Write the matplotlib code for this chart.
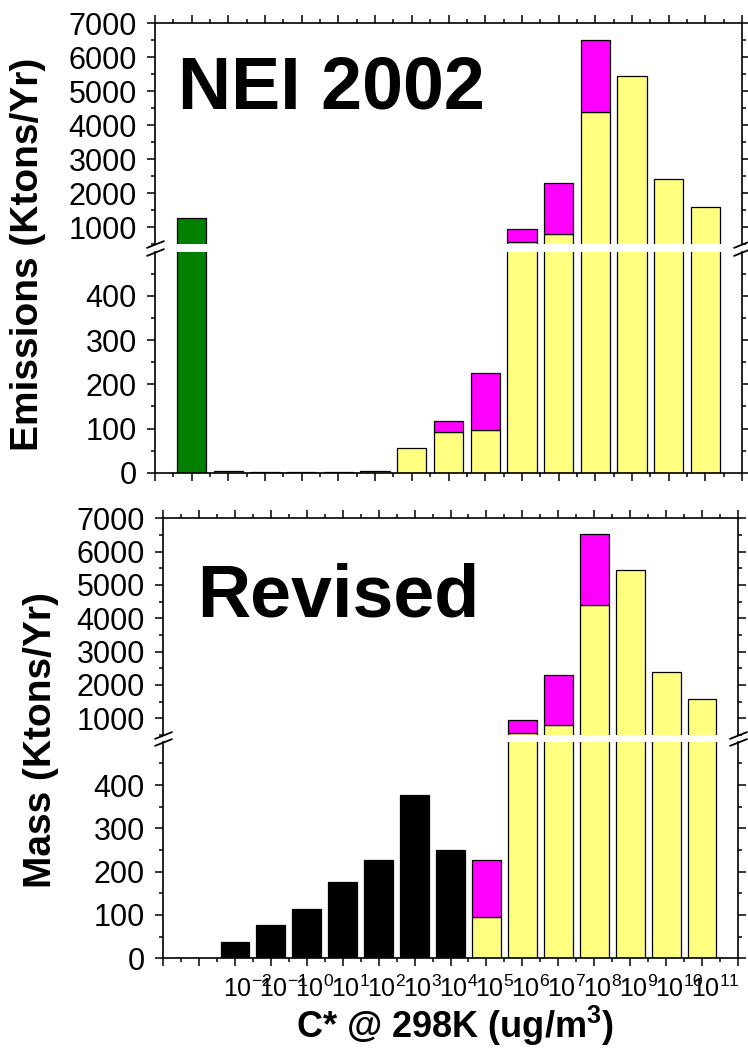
import numpy as np
import matplotlib
matplotlib.use("Agg")
import matplotlib.pyplot as plt
from matplotlib.ticker import MultipleLocator, FixedLocator

plt.rcParams['font.family'] = ['Liberation Sans', 'DejaVu Sans']
plt.rcParams['mathtext.fontset'] = 'custom'
plt.rcParams['mathtext.rm'] = 'Liberation Sans'
plt.rcParams['mathtext.bf'] = 'Liberation Sans:bold'

# bins: slot 1 .. 15, slot k is labelled 10^(k-4)
slots = np.arange(1, 16)
label_slots = np.arange(2, 16)
exponents = ['-2', '-1', '0', '1', '2', '3', '4', '5', '6', '7', '8', '9', '10', '11']

# NEI 2002 (Ktons/Yr)
nei_green = [1255, 0, 0, 0, 0, 0, 0, 0, 0, 0, 0, 0, 0, 0, 0]
nei_yellow = [0, 4, 0.6, 0.6, 2, 3, 55, 92, 96, 565, 805, 4380, 5450, 2400, 1590]
nei_magenta = [0, 0, 0, 0, 0, 0, 0, 26, 130, 370, 1490, 2130, 0, 0, 0]

# Revised (Ktons/Yr)
rev_black = [0, 38, 76, 114, 177, 227, 378, 250, 0, 0, 0, 0, 0, 0, 0]
rev_yellow = [0, 0, 0, 0, 0, 0, 0, 0, 95, 570, 808, 4390, 5450, 2402, 1592]
rev_magenta = [0, 0, 0, 0, 0, 0, 0, 0, 132, 370, 1493, 2132, 0, 0, 0]

YELLOW = '#ffff80'
MAGENTA = '#ff00ff'
GREEN = '#008000'

W, H = 748, 1054
fig = plt.figure(figsize=(W / 100, H / 100), dpi=100)


def px_axes(left, top, right, bottom):
    return fig.add_axes([left / W, 1 - bottom / H, (right - left) / W, (bottom - top) / H])


def draw_panel(ax_hi, ax_lo, layers):
    for ax in (ax_hi, ax_lo):
        base = np.zeros(len(slots))
        for heights, color in layers:
            h = np.array(heights, float)
            m = h > 0
            ax.bar(slots[m], h[m], width=0.8, bottom=base[m], color=color,
                   edgecolor='black', linewidth=0.9)
            base += h
        ax.set_xlim(0, 16)
        ax.xaxis.set_major_locator(MultipleLocator(1))
        ax.xaxis.set_minor_locator(MultipleLocator(0.5))
        ax.tick_params(which='both', direction='out', right=True, labelright=False,
                       labelbottom=False, width=1.1, labelsize=22, pad=7)
        ax.tick_params(which='major', length=6)
        ax.tick_params(which='minor', length=3)
        for s in ax.spines.values():
            s.set_linewidth(1.2)

    ax_hi.set_ylim(500, 7000)
    ax_hi.yaxis.set_major_locator(MultipleLocator(1000))
    ax_hi.yaxis.set_minor_locator(MultipleLocator(500))
    ax_hi.spines['bottom'].set_visible(False)
    ax_hi.tick_params(which='both', bottom=False, top=True, labeltop=False)

    ax_lo.set_ylim(0, 500)
    ax_lo.yaxis.set_major_locator(FixedLocator([0, 100, 200, 300, 400]))
    ax_lo.yaxis.set_minor_locator(FixedLocator([50, 150, 250, 350, 450]))
    ax_lo.spines['top'].set_visible(False)
    ax_lo.tick_params(which='both', top=False)

    # break marks
    kw = dict(marker=[(-1, -0.4), (1, 0.4)], markersize=13, linestyle='none',
              color='k', mec='k', mew=1.3, clip_on=False)
    ax_hi.plot([0, 1], [0, 0], transform=ax_hi.transAxes, **kw)
    ax_lo.plot([0, 1], [1, 1], transform=ax_lo.transAxes, **kw)


# top panel: NEI 2002
a1 = px_axes(155, 23.3, 742, 244)
a2 = px_axes(155, 251.7, 742, 472.7)
draw_panel(a1, a2, [(nei_green, GREEN), (nei_yellow, YELLOW), (nei_magenta, MAGENTA)])

# bottom panel: Revised
b1 = px_axes(163, 518.3, 738, 735)
b2 = px_axes(163, 741.8, 738, 958.3)
draw_panel(b1, b2, [(rev_black, 'black'), (rev_yellow, YELLOW), (rev_magenta, MAGENTA)])

# x tick labels 10^n, the "10" centred on the tick like the original
narrow = ['Liberation Sans Narrow', 'Liberation Sans']
for k, e in zip(label_slots, exponents):
    b2.annotate(r'$\mathregular{10^{%s}}$' % e, xy=(k, 0), xycoords=('data', 'axes fraction'),
                xytext=(-8.2, -12.5), textcoords='offset points', ha='left', va='top',
                fontsize=18, family=narrow)

fig.text(178 / W, 1 - 108.3 / H, 'NEI 2002', fontsize=53, weight='bold', va='baseline')
fig.text(197 / W, 1 - 616.7 / H, 'Revised', fontsize=53, weight='bold', va='baseline')

fig.text(28 / W, 1 - 254 / H, 'Emissions (Ktons/Yr)', rotation=90, ha='center',
         va='center', fontsize=28, weight='bold')
fig.text(41 / W, 1 - 740 / H, 'Mass (Ktons/Yr)', rotation=90, ha='center',
         va='center', fontsize=28, weight='bold')
fig.text(455 / W, 1 - 1026 / H, r'C* @ 298K (ug/m$\mathbf{^3}$)', ha='center', va='center',
         fontsize=26, weight='bold')

fig.savefig('out.png', dpi=100)
